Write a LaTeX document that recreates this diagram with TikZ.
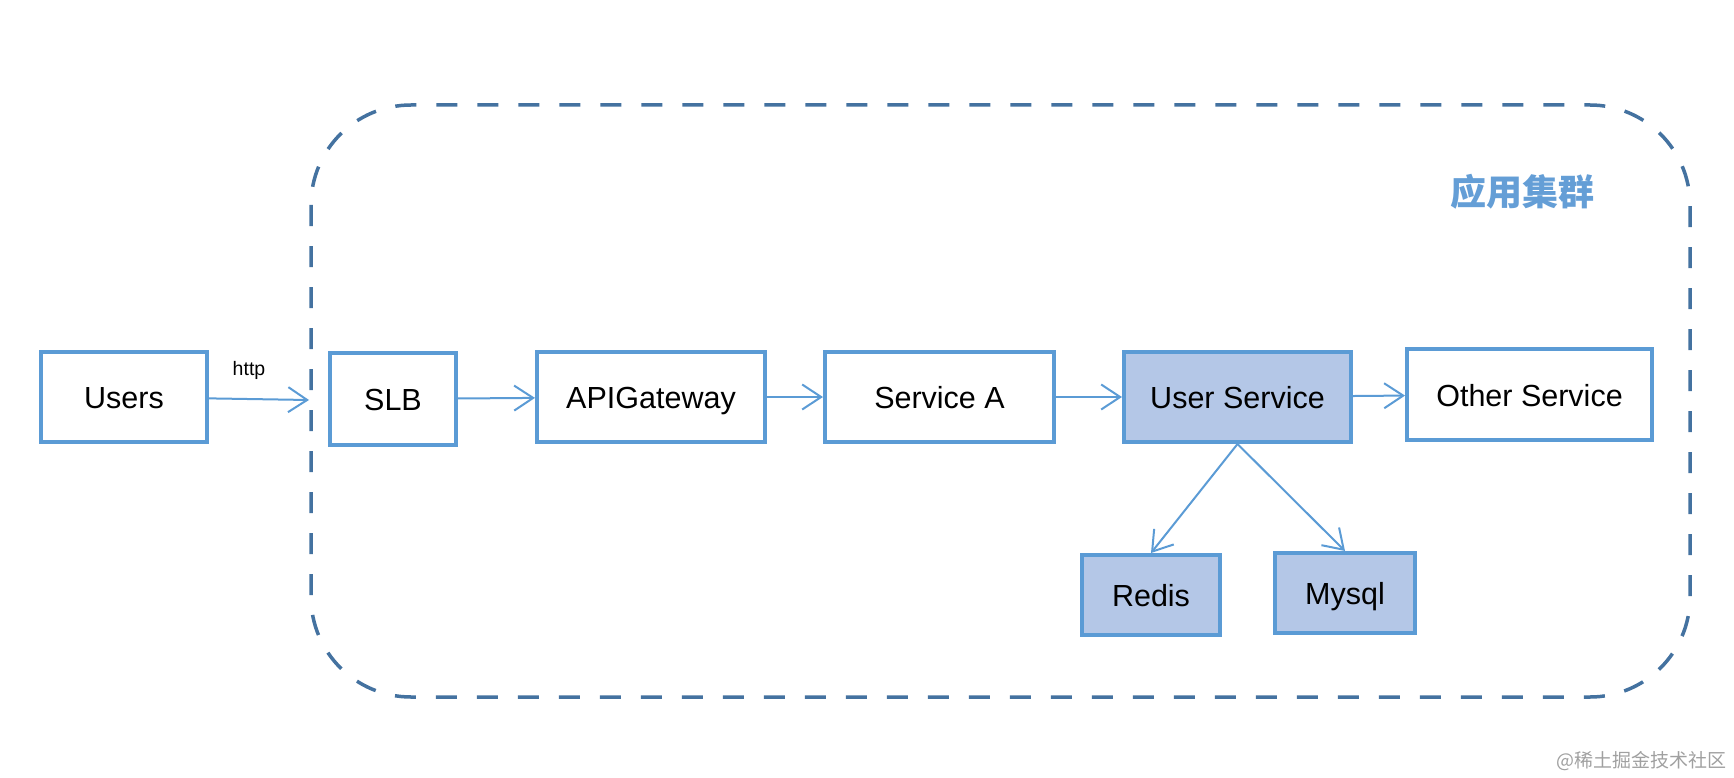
\documentclass[tikz,border=0pt]{standalone}
\usepackage{fontspec}
\setmainfont{Liberation Sans}
\newfontfamily\cjk{Noto Sans CJK SC}
\usetikzlibrary{arrows.meta}
\definecolor{bbord}{RGB}{91,155,213}
\definecolor{bfill}{RGB}{180,199,231}
\definecolor{dashcol}{RGB}{68,114,160}
\definecolor{cjkcol}{RGB}{100,158,214}
\definecolor{wmcol}{RGB}{160,160,160}
\begin{document}
\begin{tikzpicture}[x=1pt,y=-1pt,
  box/.style={draw=bbord, line width=4pt, fill=white, inner sep=0pt, text height=28pt, text depth=5pt, font=\fontsize{30.5}{36}\selectfont},
  hbox/.style={box, fill=bfill},
  conn/.style={draw=bbord, line width=2pt, -{Straight Barb[length=19pt,width=25pt]}}]
\useasboundingbox (0,0) rectangle (1734,778);
\draw[dashcol, line width=3.5pt, dash pattern=on 21pt off 20pt, rounded corners=100pt] (311,105) rectangle (1690,697);
\node[box, minimum width=166pt, minimum height=90pt] (users) at (124,397) {Users};
\node[box, minimum width=126pt, minimum height=92pt] (slb) at (393,399) {SLB};
\node[box, minimum width=228pt, minimum height=90pt] (api) at (651,397) {APIGateway};
\node[box, minimum width=229pt, minimum height=90pt] (sa) at (939.5,397) {Service A};
\node[hbox, minimum width=227pt, minimum height=90pt] (us) at (1237.5,397) {User Service};
\node[box, minimum width=245pt, minimum height=91pt] (os) at (1529.5,394.5) {Other Service};
\node[hbox, minimum width=138pt, minimum height=80pt] (redis) at (1151,595) {Redis};
\node[hbox, minimum width=140pt, minimum height=80pt] (mysql) at (1345,593) {Mysql};
\node[font=\fontsize{19.5}{22}\selectfont, inner sep=0pt] (http) at (249,370) {http};
\node[font=\cjk\bfseries\fontsize{36}{40}\selectfont, text=cjkcol, inner sep=0pt] (title) at (1522,192) {应用集群};
\node[font=\cjk\fontsize{19}{22}\selectfont, text=wmcol, inner sep=0pt, anchor=east] (wm) at (1727,761) {@稀土掘金技术社区};
\coordinate (hin) at (309,400);
\draw[conn] (users) -- (hin);
\draw[conn] (slb) -- (api);
\draw[conn] (api) -- (sa);
\draw[conn] (sa) -- (us);
\draw[conn] (us) -- (os);
\draw[conn] (us.south) -- (redis.north);
\draw[conn] (us.south) -- (mysql.north);
\end{tikzpicture}
\end{document}
